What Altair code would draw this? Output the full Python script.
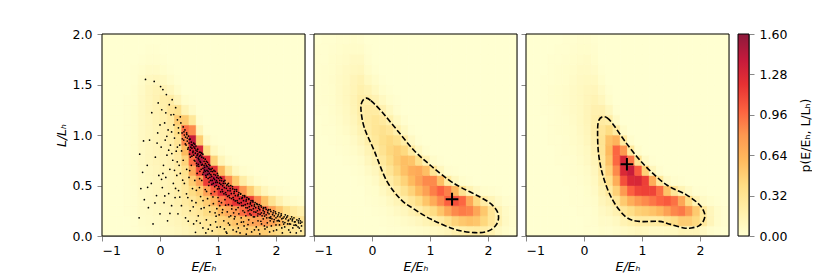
import altair as alt
import pandas as pd

# ---------------- grid geometry of the density maps (data units) ----------------
E_MIN = -1.0
E_STEP = 0.125   # 28 columns from -1 to 2.5
L_STEP = 0.1     # 20 rows from 0 to 2
N_L = 20

# density values: one list per E-column (bottom -> top),
# trailing zeros omitted
P1 = [
    [], [], [],
    [0, 0, 0.01, 0.01, 0.01, 0.01, 0.01, 0.01, 0.01, 0.01, 0.01, 0.01, 0.01, 0.01],
    [0.01, 0.01, 0.02, 0.02, 0.02, 0.03, 0.03, 0.03, 0.03, 0.03, 0.03, 0.03, 0.03, 0.02, 0.02, 0.01, 0.01],
    [0.03, 0.04, 0.05, 0.05, 0.06, 0.06, 0.06, 0.07, 0.07, 0.07, 0.07, 0.07, 0.07, 0.07, 0.06, 0.05, 0.03, 0.01],
    [0.04, 0.05, 0.06, 0.07, 0.08, 0.08, 0.09, 0.1, 0.1, 0.1, 0.1, 0.1, 0.11, 0.11, 0.11, 0.09, 0.05, 0.02, 0.01],
    [0.05, 0.06, 0.08, 0.09, 0.1, 0.1, 0.11, 0.12, 0.12, 0.13, 0.13, 0.14, 0.15, 0.15, 0.14, 0.1, 0.05, 0.02, 0.01],
    [0.07, 0.08, 0.1, 0.12, 0.12, 0.12, 0.13, 0.14, 0.15, 0.16, 0.17, 0.18, 0.19, 0.2, 0.15, 0.08, 0.03, 0.01],
    [0.08, 0.1, 0.12, 0.14, 0.15, 0.15, 0.16, 0.17, 0.18, 0.2, 0.22, 0.25, 0.3, 0.22, 0.1, 0.04, 0.01],
    [0.1, 0.12, 0.15, 0.18, 0.2, 0.2, 0.22, 0.24, 0.27, 0.32, 0.4, 0.5, 0.35, 0.12, 0.04, 0.01],
    [0.12, 0.15, 0.2, 0.25, 0.28, 0.3, 0.35, 0.45, 0.6, 0.85, 0.95, 0.5, 0.14, 0.03],
    [0.15, 0.2, 0.25, 0.3, 0.4, 0.5, 0.7, 0.95, 1.3, 1.4, 0.85, 0.28, 0.05, 0.01],
    [0.2, 0.25, 0.3, 0.4, 0.5, 0.75, 1.1, 1.45, 1.3, 0.5, 0.12, 0.02],
    [0.25, 0.3, 0.4, 0.5, 0.75, 1.15, 1.5, 1.2, 0.4, 0.08, 0.01],
    [0.3, 0.35, 0.45, 0.65, 1.0, 1.4, 1.2, 0.45, 0.09, 0.01],
    [0.35, 0.45, 0.6, 0.9, 1.25, 1.25, 0.6, 0.13, 0.02],
    [0.4, 0.5, 0.7, 1.05, 1.25, 0.85, 0.28, 0.04],
    [0.45, 0.55, 0.8, 1.2, 1.15, 0.5, 0.09, 0.01],
    [0.5, 0.6, 0.95, 1.25, 0.8, 0.22, 0.03],
    [0.5, 0.7, 1.1, 1.15, 0.5, 0.09, 0.01],
    [0.5, 0.75, 1.1, 0.85, 0.25, 0.03],
    [0.5, 0.8, 0.95, 0.55, 0.11, 0.01],
    [0.45, 0.72, 0.75, 0.32, 0.04],
    [0.4, 0.62, 0.52, 0.16, 0.02],
    [0.35, 0.5, 0.36, 0.08, 0.01],
    [0.3, 0.4, 0.25, 0.05],
    [0.25, 0.32, 0.18, 0.03],
]

P2 = [
    [0, 0, 0, 0, 0, 0, 0, 0, 0, 0, 0, 0, 0.01, 0.01, 0.01, 0.01, 0.01, 0.01, 0.01, 0],
    [0, 0, 0, 0, 0, 0, 0, 0, 0, 0, 0.01, 0.01, 0.01, 0.02, 0.02, 0.02, 0.02, 0.01, 0.01, 0.01],
    [0, 0, 0, 0, 0, 0, 0, 0, 0, 0.01, 0.01, 0.02, 0.03, 0.03, 0.03, 0.035, 0.03, 0.03, 0.02, 0.01],
    [0, 0, 0, 0, 0, 0, 0, 0, 0.01, 0.02, 0.03, 0.04, 0.05, 0.06, 0.06, 0.06, 0.05, 0.04, 0.03, 0.02],
    [0, 0, 0, 0, 0, 0, 0, 0.01, 0.02, 0.03, 0.05, 0.07, 0.08, 0.09, 0.09, 0.08, 0.07, 0.05, 0.04, 0.02],
    [0, 0, 0, 0, 0, 0, 0.01, 0.02, 0.04, 0.06, 0.09, 0.11, 0.13, 0.14, 0.13, 0.12, 0.09, 0.07, 0.04, 0.03],
    [0, 0, 0, 0, 0, 0.01, 0.02, 0.04, 0.07, 0.11, 0.15, 0.19, 0.21, 0.21, 0.18, 0.15, 0.1, 0.07, 0.04, 0.02],
    [0, 0, 0, 0.01, 0.02, 0.03, 0.06, 0.1, 0.14, 0.19, 0.23, 0.25, 0.24, 0.2, 0.14, 0.08, 0.04, 0.02, 0.01],
    [0, 0, 0.01, 0.02, 0.03, 0.06, 0.1, 0.16, 0.22, 0.27, 0.3, 0.29, 0.23, 0.15, 0.08, 0.04, 0.01],
    [0, 0.01, 0.02, 0.04, 0.08, 0.14, 0.2, 0.27, 0.33, 0.36, 0.34, 0.26, 0.17, 0.08, 0.03, 0.01],
    [0.01, 0.02, 0.04, 0.08, 0.14, 0.22, 0.31, 0.39, 0.43, 0.41, 0.3, 0.18, 0.08, 0.03, 0.01],
    [0.01, 0.03, 0.07, 0.13, 0.22, 0.33, 0.44, 0.5, 0.48, 0.35, 0.19, 0.08, 0.02, 0.01],
    [0.02, 0.05, 0.1, 0.2, 0.33, 0.46, 0.56, 0.57, 0.42, 0.22, 0.08, 0.02],
    [0.03, 0.07, 0.16, 0.29, 0.46, 0.6, 0.67, 0.54, 0.25, 0.07, 0.01],
    [0.04, 0.1, 0.22, 0.4, 0.6, 0.74, 0.7, 0.36, 0.09, 0.01],
    [0.05, 0.14, 0.31, 0.54, 0.75, 0.85, 0.57, 0.16, 0.02],
    [0.07, 0.19, 0.4, 0.68, 0.89, 0.85, 0.31, 0.04],
    [0.09, 0.25, 0.54, 0.85, 1.0, 0.57, 0.1, 0.01],
    [0.12, 0.35, 0.71, 1.0, 0.89, 0.25, 0.02],
    [0.17, 0.46, 0.85, 1.07, 0.61, 0.09, 0.01],
    [0.19, 0.52, 0.9, 0.98, 0.33, 0.03],
    [0.22, 0.56, 0.87, 0.7, 0.15, 0.01],
    [0.23, 0.53, 0.72, 0.42, 0.07],
    [0.21, 0.43, 0.52, 0.22, 0.03],
    [0.16, 0.3, 0.31, 0.13, 0.02],
    [0.08, 0.17, 0.15, 0.06, 0.01],
    [0.04, 0.07, 0.06, 0.02],
    [0.01, 0.02, 0.02, 0.01],
]

P3 = [
    [], [],
    [0, 0, 0, 0, 0, 0, 0, 0, 0, 0, 0, 0, 0.01, 0.01, 0.01, 0.01],
    [0, 0, 0, 0, 0, 0, 0, 0, 0, 0.01, 0.01, 0.01, 0.01, 0.02, 0.02, 0.01, 0.01, 0.01],
    [0, 0, 0, 0, 0, 0, 0, 0.01, 0.01, 0.01, 0.02, 0.02, 0.02, 0.03, 0.03, 0.02, 0.02, 0.01, 0.01],
    [0, 0, 0, 0, 0, 0.01, 0.01, 0.01, 0.02, 0.02, 0.03, 0.03, 0.04, 0.04, 0.04, 0.03, 0.03, 0.02, 0.01, 0.01],
    [0, 0, 0, 0.01, 0.01, 0.01, 0.02, 0.02, 0.03, 0.04, 0.04, 0.05, 0.06, 0.06, 0.06, 0.05, 0.04, 0.03, 0.02, 0.01],
    [0, 0, 0.01, 0.01, 0.01, 0.02, 0.03, 0.04, 0.05, 0.06, 0.07, 0.08, 0.08, 0.08, 0.08, 0.07, 0.06, 0.04, 0.03, 0.02],
    [0.01, 0.01, 0.01, 0.02, 0.03, 0.04, 0.05, 0.07, 0.08, 0.1, 0.11, 0.12, 0.12, 0.11, 0.1, 0.08, 0.06, 0.05, 0.03, 0.02],
    [0.01, 0.02, 0.03, 0.04, 0.06, 0.08, 0.1, 0.13, 0.16, 0.18, 0.2, 0.19, 0.17, 0.14, 0.11, 0.08, 0.05, 0.03, 0.02, 0.01],
    [0.03, 0.05, 0.07, 0.11, 0.15, 0.2, 0.24, 0.28, 0.31, 0.32, 0.3, 0.24, 0.17, 0.1, 0.06, 0.03, 0.01],
    [0.02, 0.05, 0.1, 0.16, 0.26, 0.36, 0.47, 0.55, 0.6, 0.56, 0.4, 0.21, 0.09, 0.03, 0.01],
    [0.04, 0.08, 0.16, 0.29, 0.47, 0.67, 0.85, 0.97, 0.98, 0.64, 0.25, 0.06, 0.01],
    [0.06, 0.15, 0.29, 0.51, 0.79, 1.07, 1.27, 1.3, 0.8, 0.25, 0.04],
    [0.08, 0.19, 0.38, 0.67, 1.0, 1.27, 1.38, 0.91, 0.26, 0.03],
    [0.1, 0.23, 0.47, 0.79, 1.11, 1.29, 1.02, 0.31, 0.03],
    [0.09, 0.23, 0.5, 0.85, 1.13, 1.14, 0.47, 0.06],
    [0.07, 0.23, 0.55, 0.92, 1.12, 0.67, 0.11, 0.01],
    [0.07, 0.25, 0.62, 0.99, 0.95, 0.27, 0.02],
    [0.08, 0.32, 0.75, 1.03, 0.55, 0.06],
    [0.09, 0.39, 0.86, 0.94, 0.3, 0.02],
    [0.13, 0.49, 0.91, 0.71, 0.14, 0.01],
    [0.12, 0.49, 0.78, 0.4, 0.06],
    [0.12, 0.42, 0.51, 0.15, 0.01],
    [0.07, 0.27, 0.27, 0.06, 0.01],
    [0.03, 0.12, 0.11, 0.03],
    [0.01, 0.04, 0.04, 0.01],
    [0, 0.01, 0.01],
]

# dashed contours (closed loops) and density maxima
CONTOUR2 = [(-0.10, 1.365), (-0.02, 1.34), (0.155, 1.24), (0.444, 1.04), (0.733, 0.842),
            (1.022, 0.693), (1.311, 0.56), (1.542, 0.479), (1.83, 0.396), (2.062, 0.313),
            (2.177, 0.215), (2.148, 0.116), (2.004, 0.05), (1.773, 0.033), (1.426, 0.066),
            (1.022, 0.165), (0.733, 0.264), (0.50, 0.36), (0.25, 0.55), (0.04, 0.842),
            (-0.133, 1.073), (-0.19, 1.25), (-0.17, 1.33)]
CONTOUR3 = [(0.32, 1.18), (0.40, 1.17), (0.51, 1.10), (0.69, 0.95), (0.92, 0.78),
            (1.15, 0.64), (1.44, 0.50), (1.76, 0.41), (1.99, 0.31), (2.08, 0.22),
            (2.06, 0.15), (1.98, 0.10), (1.85, 0.08), (1.72, 0.08), (1.49, 0.115),
            (1.30, 0.145), (0.95, 0.145), (0.72, 0.19), (0.49, 0.36), (0.33, 0.59),
            (0.25, 0.82), (0.235, 1.06), (0.26, 1.15)]
PEAK2 = [(1.38, 0.365)]
PEAK3 = [(0.74, 0.71)]

# sample points of panel 1 (subset)
SCATTER = [
    (0.36, 1.12), (0.38, 1.02), (0.40, 1.08), (0.41, 0.95), (0.43, 1.05), (0.44, 0.98), (0.45, 0.90),
    (0.46, 1.02), (0.47, 0.94), (0.48, 0.86), (0.49, 0.99), (0.50, 0.92), (0.51, 0.81), (0.52, 0.96),
    (0.53, 0.88), (0.54, 0.93), (0.55, 0.79), (0.56, 0.90), (0.57, 0.84), (0.58, 0.92), (0.59, 0.75),
    (0.60, 0.87), (0.61, 0.82), (0.62, 0.89), (0.63, 0.72), (0.64, 0.80), (0.65, 0.86), (0.66, 0.77),
    (0.67, 0.69), (0.68, 0.83), (0.69, 0.74), (0.70, 0.80), (0.71, 0.66), (0.72, 0.78), (0.73, 0.71),
    (0.74, 0.81), (0.75, 0.63), (0.76, 0.74), (0.77, 0.68), (0.78, 0.76), (0.79, 0.60), (0.80, 0.70),
    (0.81, 0.65), (0.82, 0.73), (0.83, 0.57), (0.84, 0.67), (0.85, 0.62), (0.86, 0.70), (0.87, 0.55),
    (0.88, 0.64), (0.89, 0.59), (0.90, 0.67), (0.92, 0.52), (0.93, 0.61), (0.94, 0.56), (0.95, 0.64),
    (0.97, 0.50), (0.98, 0.58), (0.99, 0.53), (1.00, 0.60), (1.02, 0.47), (1.03, 0.55), (1.05, 0.51),
    (1.06, 0.57), (1.08, 0.44), (1.09, 0.52), (1.11, 0.48), (1.12, 0.55), (1.14, 0.41), (1.15, 0.50),
    (1.17, 0.45), (1.18, 0.52), (1.20, 0.38), (1.21, 0.47), (1.23, 0.42), (1.25, 0.49), (1.27, 0.36),
    (1.28, 0.44), (1.30, 0.40), (1.32, 0.46), (1.34, 0.33), (1.35, 0.41), (1.37, 0.37), (1.39, 0.42),
    (1.41, 0.30), (1.42, 0.38), (1.44, 0.35), (1.46, 0.40), (1.48, 0.28), (1.49, 0.36), (1.51, 0.32),
    (1.53, 0.37), (1.55, 0.26), (1.56, 0.33), (1.58, 0.30), (1.60, 0.35), (1.62, 0.24), (1.63, 0.31),
    (1.65, 0.28), (1.67, 0.32), (1.69, 0.22), (1.70, 0.29), (1.72, 0.26), (1.74, 0.30), (1.76, 0.20),
    (1.78, 0.27), (1.80, 0.24), (1.82, 0.28), (1.84, 0.18), (1.86, 0.25), (1.88, 0.22), (1.90, 0.26),
    (1.93, 0.17), (1.95, 0.23), (1.97, 0.20), (1.99, 0.24), (2.02, 0.15), (2.04, 0.21), (2.07, 0.19),
    (2.09, 0.22), (2.12, 0.14), (2.14, 0.19), (2.17, 0.17), (2.20, 0.20), (2.23, 0.12), (2.25, 0.17),
    (2.28, 0.15), (2.31, 0.18), (2.34, 0.11), (2.36, 0.16), (2.39, 0.13), (2.42, 0.15), (2.44, 0.10),
    (0.42, 1.00), (0.47, 0.97), (0.52, 0.85), (0.55, 0.87), (0.58, 0.80), (0.60, 0.91), (0.62, 0.78),
    (0.64, 0.84), (0.66, 0.71), (0.68, 0.79), (0.70, 0.73), (0.72, 0.82), (0.74, 0.67), (0.76, 0.70),
    (0.78, 0.64), (0.80, 0.74), (0.82, 0.61), (0.84, 0.71), (0.86, 0.58), (0.88, 0.66), (0.90, 0.55),
    (0.93, 0.65), (0.96, 0.53), (0.99, 0.62), (1.01, 0.49), (1.04, 0.58), (1.07, 0.46), (1.10, 0.54),
    (1.13, 0.43), (1.16, 0.51), (1.19, 0.40), (1.22, 0.50), (1.26, 0.38), (1.29, 0.46), (1.33, 0.35),
    (1.36, 0.43), (1.40, 0.33), (1.43, 0.40), (1.47, 0.31), (1.50, 0.38), (1.54, 0.29), (1.57, 0.35),
    (1.61, 0.27), (1.64, 0.33), (1.68, 0.25), (1.71, 0.31), (1.75, 0.23), (1.79, 0.28), (1.83, 0.21),
    (1.87, 0.26), (1.91, 0.19), (1.96, 0.25), (2.00, 0.18), (2.05, 0.23), (2.10, 0.17), (2.16, 0.21),
    (2.21, 0.15), (2.27, 0.19), (2.33, 0.14), (2.40, 0.17),
    (0.413, 1.031), (0.437, 0.912), (0.462, 1.004), (0.488, 0.874), (0.506, 0.957), (0.523, 0.781),
    (0.541, 0.903), (0.567, 0.826), (0.584, 0.883), (0.603, 0.742), (0.619, 0.851), (0.637, 0.694),
    (0.652, 0.812), (0.671, 0.756), (0.688, 0.641), (0.703, 0.828), (0.718, 0.702), (0.736, 0.611),
    (0.751, 0.772), (0.768, 0.653), (0.783, 0.717), (0.797, 0.582), (0.812, 0.688), (0.829, 0.641),
    (0.846, 0.534), (0.861, 0.662), (0.877, 0.607), (0.894, 0.512), (0.909, 0.638), (0.926, 0.574),
    (0.943, 0.488), (0.958, 0.603), (0.974, 0.548), (0.991, 0.466), (1.008, 0.571), (1.027, 0.523),
    (1.046, 0.438), (1.063, 0.547), (1.081, 0.497), (1.102, 0.418), (1.124, 0.521), (1.143, 0.472),
    (1.166, 0.392), (1.187, 0.494), (1.209, 0.447), (1.231, 0.371), (1.254, 0.466), (1.276, 0.421),
    (1.298, 0.347), (1.321, 0.443), (1.344, 0.398), (1.366, 0.322), (1.389, 0.414), (1.412, 0.372),
    (1.437, 0.301), (1.461, 0.388), (1.484, 0.346), (1.508, 0.279), (1.531, 0.362), (1.556, 0.318),
    (1.579, 0.257), (1.603, 0.337), (1.627, 0.296), (1.652, 0.236), (1.676, 0.311), (1.701, 0.274),
    (1.726, 0.216), (1.752, 0.287), (1.778, 0.252), (1.804, 0.197), (1.831, 0.264), (1.857, 0.231),
    (1.884, 0.181), (1.912, 0.243), (1.941, 0.212), (1.969, 0.163), (1.998, 0.222), (2.027, 0.194),
    (2.058, 0.147), (2.089, 0.204), (2.121, 0.176), (2.153, 0.133), (2.186, 0.186), (2.218, 0.158),
    (2.251, 0.118), (2.284, 0.167), (2.318, 0.141), (2.352, 0.104), (2.386, 0.149), (2.421, 0.127),
    (2.447, 0.138),
    (0.32, 0.45), (0.35, 0.62), (0.37, 0.30), (0.40, 0.75), (0.42, 0.52), (0.44, 0.18), (0.46, 0.66),
    (0.48, 0.38), (0.50, 0.58), (0.52, 0.25), (0.54, 0.70), (0.56, 0.47), (0.58, 0.12), (0.60, 0.55),
    (0.62, 0.33), (0.64, 0.62), (0.66, 0.20), (0.68, 0.48), (0.70, 0.39), (0.72, 0.55), (0.74, 0.08),
    (0.76, 0.28), (0.78, 0.46), (0.80, 0.16), (0.82, 0.37), (0.84, 0.50), (0.86, 0.24), (0.88, 0.42),
    (0.90, 0.05), (0.92, 0.32), (0.94, 0.44), (0.96, 0.14), (0.98, 0.27), (1.00, 0.38), (1.02, 0.21),
    (1.04, 0.09), (1.06, 0.33), (1.08, 0.26), (1.10, 0.15), (1.12, 0.36), (1.14, 0.04), (1.16, 0.24),
    (1.18, 0.31), (1.20, 0.11), (1.22, 0.20), (1.24, 0.30), (1.26, 0.06), (1.28, 0.17), (1.31, 0.26),
    (1.33, 0.12), (1.36, 0.22), (1.38, 0.03), (1.40, 0.18), (1.43, 0.25), (1.45, 0.10), (1.48, 0.20),
    (1.50, 0.07), (1.53, 0.16), (1.55, 0.22), (1.58, 0.04), (1.60, 0.13), (1.63, 0.19), (1.66, 0.09),
    (1.69, 0.15), (1.72, 0.02), (1.75, 0.12), (1.78, 0.17), (1.81, 0.07), (1.85, 0.13), (1.89, 0.04),
    (1.92, 0.10), (1.96, 0.14), (2.01, 0.06), (2.06, 0.11), (2.11, 0.03), (2.15, 0.09), (2.22, 0.06),
    (2.29, 0.08), (2.35, 0.03), (2.43, 0.05),
    (0.55, 0.35), (0.63, 0.15), (0.71, 0.27), (0.79, 0.03), (0.87, 0.11), (0.95, 0.23), (1.03, 0.30),
    (1.11, 0.07), (1.19, 0.19), (1.27, 0.23), (1.35, 0.08), (1.44, 0.14), (1.52, 0.25), (1.61, 0.19),
    (1.70, 0.06), (1.80, 0.10), (1.90, 0.15), (2.00, 0.11), (2.10, 0.08), (2.20, 0.12), (2.38, 0.09),
    (0.391, 0.553), (0.457, 0.418), (0.512, 0.648), (0.573, 0.289), (0.627, 0.452), (0.683, 0.567),
    (0.742, 0.351), (0.803, 0.441), (0.851, 0.302), (0.913, 0.387), (0.967, 0.196), (1.018, 0.344),
    (1.073, 0.232), (1.131, 0.305), (1.178, 0.128), (1.237, 0.268), (1.292, 0.191), (1.347, 0.281),
    (1.403, 0.137), (1.458, 0.234), (1.517, 0.113), (1.571, 0.207), (1.628, 0.061), (1.683, 0.198),
    (1.739, 0.146), (1.793, 0.222), (1.846, 0.089), (1.903, 0.178), (1.958, 0.051), (2.041, 0.154),
    (2.133, 0.118), (2.247, 0.036), (2.311, 0.107), (2.402, 0.078), (0.487, 0.147), (0.612, 0.037),
    (0.693, 0.128), (0.832, 0.068), (0.984, 0.087), (1.153, 0.028), (1.318, 0.043), (1.487, 0.018),
    (-0.36, 0.18), (-0.35, 0.81), (-0.33, 0.47), (-0.30, 0.63), (-0.27, 0.36), (-0.25, 1.55), (-0.22, 0.70),
    (-0.20, 0.28), (-0.18, 0.95), (-0.15, 0.52), (-0.12, 0.12), (-0.10, 1.53), (-0.08, 0.78), (-0.06, 0.40),
    (-0.04, 1.02), (-0.02, 0.60), (0.00, 0.22), (0.01, 1.48), (0.02, 0.88), (0.03, 1.25), (0.04, 0.48),
    (0.05, 1.45), (0.06, 0.70), (0.07, 0.33), (0.08, 1.12), (0.09, 0.95), (0.10, 0.58), (0.11, 1.40),
    (0.12, 0.80), (0.13, 0.15), (0.14, 1.05), (0.15, 0.42), (0.16, 1.30), (0.17, 0.66), (0.18, 0.90),
    (0.19, 1.20), (0.20, 0.30), (0.21, 1.35), (0.22, 0.75), (0.23, 0.52), (0.24, 1.10), (0.25, 0.97),
    (0.26, 0.38), (0.27, 1.27), (0.28, 0.84), (0.29, 0.60), (0.30, 1.15), (0.31, 0.22), (0.32, 1.02),
    (0.33, 0.70), (0.34, 0.90), (0.35, 1.18), (-0.05, 0.92), (0.00, 1.10), (0.05, 0.62), (0.10, 1.22),
    (0.15, 0.85), (0.20, 1.03), (0.25, 0.65), (0.30, 0.88),
    (-0.284, 0.941), (-0.213, 0.482), (-0.142, 1.221), (-0.087, 0.327), (-0.031, 1.317), (0.027, 0.561),
    (0.083, 0.397), (0.118, 0.987), (0.171, 0.224), (0.204, 0.816), (0.236, 1.203), (0.268, 0.471),
    (0.297, 0.734), (0.318, 1.071), (0.341, 0.386), (0.372, 0.842), (0.384, 0.962),
]

X_TICKS = [-1, 0, 1, 2]
Y_TICKS = [0, 0.5, 1.0, 1.5, 2.0]
CB_TICKS = [0, 0.32, 0.64, 0.96, 1.28, 1.6]
CMAP = ["#ffffd1", "#ffefa9", "#fedd84", "#feba5e", "#fd9850",
        "#fc603f", "#e63133", "#c41a3c", "#8d1a3c"]
CMAP_DOMAIN = [0, 0.2, 0.4, 0.6, 0.8, 1.0, 1.2, 1.4, 1.6]

FONT = "DejaVu Sans"
FS = 12.5
PW, PH = 203, 202

# ---------------- tables ----------------
rows = []
for p, grid in enumerate([P1, P2, P3], start=1):
    for i, col in enumerate(grid):
        vals = list(col) + [0.0] * (N_L - len(col))
        for j, v in enumerate(vals):
            rows.append(dict(panel=p, e0=E_MIN + i * E_STEP, e1=E_MIN + (i + 1) * E_STEP,
                             l0=j * L_STEP, l1=(j + 1) * L_STEP, v=v))
heat = pd.DataFrame(rows)


def loop_df(pts):
    return pd.DataFrame({"E": [a for a, b in pts], "L": [b for a, b in pts],
                         "k": list(range(len(pts)))})


xs = alt.Scale(domain=[-1, 2.5], nice=False, zero=False)
ys = alt.Scale(domain=[0, 2], nice=False, zero=False)
cs = alt.Scale(domain=CMAP_DOMAIN, range=CMAP, clamp=True, interpolate="rgb")

common = dict(labelFont=FONT, labelFontSize=FS, titleFont=FONT, titleFontSize=FS,
              titleFontWeight="normal", labelFontWeight="normal")
x_axis = alt.Axis(values=X_TICKS, title="E/Eₕ", titleFontStyle="italic", titlePadding=4,
                  labelPadding=3, **common)
y_axis_lab = alt.Axis(values=Y_TICKS, format=".1f", title="L/Lₕ", titleFontStyle="italic",
                      titleX=-41, titleBaseline="middle", labelPadding=5, **common)
y_axis_nolab = alt.Axis(values=Y_TICKS, labels=False, title=None)


def panel(p, y_axis, contour=None, peak=None, scatter=None):
    X = lambda f: alt.X(f, scale=xs, axis=x_axis)
    Y = lambda f: alt.Y(f, scale=ys, axis=y_axis)
    layers = [
        alt.Chart(heat[heat.panel == p]).mark_rect(strokeWidth=0.7).encode(
            x=X("e0:Q"), x2="e1:Q", y=Y("l0:Q"), y2="l1:Q",
            color=alt.Color("v:Q", scale=cs, legend=None),
            stroke=alt.Stroke("v:Q", scale=cs, legend=None),
        )
    ]
    if scatter is not None:
        sdf = pd.DataFrame({"E": [a for a, b in scatter], "L": [b for a, b in scatter]})
        layers.append(alt.Chart(sdf).mark_circle(size=3, color="black", opacity=1).encode(
            x=X("E:Q"), y=Y("L:Q")))
    if contour is not None:
        layers.append(alt.Chart(loop_df(contour)).mark_line(
            interpolate="cardinal-closed", color="black", strokeWidth=1.6,
            strokeDash=[5.5, 2.4]).encode(x=X("E:Q"), y=Y("L:Q"), order="k:Q"))
    if peak is not None:
        layers.append(alt.Chart(loop_df(peak)).mark_point(
            shape="M-1,0L1,0M0,-1L0,1", size=160, strokeWidth=2, color="black",
            filled=False, opacity=1).encode(x=X("E:Q"), y=Y("L:Q")))
    # frame (axes spines) drawn on top of the image
    layers.append(alt.Chart(pd.DataFrame({"f": [0]})).mark_rect(
        filled=False, stroke="black", strokeWidth=1).encode(
        x=alt.value(0), x2=alt.value(PW), y=alt.value(0), y2=alt.value(PH)))
    return alt.layer(*layers).properties(width=PW, height=PH)


p1 = panel(1, y_axis_lab, scatter=SCATTER)
p2 = panel(2, y_axis_nolab, contour=CONTOUR2, peak=PEAK2)
p3 = panel(3, y_axis_nolab, contour=CONTOUR3, peak=PEAK3)

grad = {"gradient": "linear", "x1": 0, "y1": 1, "x2": 0, "y2": 0,
        "stops": [{"offset": k / (len(CMAP) - 1), "color": c} for k, c in enumerate(CMAP)]}
cbar = alt.Chart(pd.DataFrame({"lo": [0.0], "hi": [1.6]})).mark_rect(
    fill=grad, stroke="black", strokeWidth=1).encode(
    x=alt.value(0), x2=alt.value(11),
    y=alt.Y("lo:Q", scale=alt.Scale(domain=[0, 1.6], nice=False, zero=False),
            axis=alt.Axis(orient="right", values=CB_TICKS, format=".2f",
                          title="p(E/Eₕ, L/Lₕ)", titleAngle=270, titleBaseline="middle",
                          titleX=56, labelPadding=5, **common)),
    y2="hi:Q",
).properties(width=11, height=PH)

chart = alt.hconcat(p1, p2, p3, cbar, spacing=9, bounds="flush").properties(
    padding={"left": 46, "top": 19, "right": 0, "bottom": 0}
).configure_view(stroke=None).configure_axis(
    domain=False, grid=False, tickColor="black", tickWidth=1, tickSize=4.5,
    labelColor="black", titleColor="black",
).configure(font=FONT)

chart.save("out.html", embed_options={"renderer": "svg", "actions": False})
